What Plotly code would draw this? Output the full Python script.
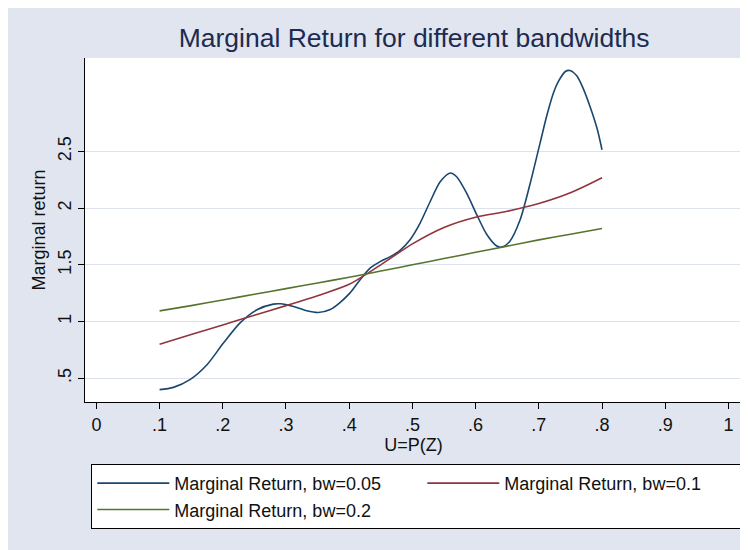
import plotly.graph_objects as go

# ---- data ----
u_bw005 = [0.100, 0.122, 0.148, 0.175, 0.201, 0.227, 0.254, 0.280, 0.291, 0.312,
           0.333, 0.351, 0.370, 0.385, 0.401, 0.417, 0.433, 0.449, 0.465, 0.480,
           0.496, 0.512, 0.528, 0.544, 0.560, 0.570, 0.586, 0.602, 0.618, 0.633,
           0.641, 0.654, 0.670, 0.686, 0.702, 0.713, 0.723, 0.731, 0.742, 0.749,
           0.760, 0.770, 0.781, 0.792, 0.800]
mr_bw005 = [0.399, 0.419, 0.487, 0.619, 0.810, 0.986, 1.103, 1.153, 1.156, 1.132,
            1.094, 1.079, 1.106, 1.165, 1.250, 1.367, 1.470, 1.528, 1.572, 1.625,
            1.719, 1.866, 2.056, 2.232, 2.310, 2.277, 2.130, 1.940, 1.765, 1.668,
            1.656, 1.706, 1.890, 2.210, 2.573, 2.823, 3.014, 3.117, 3.205, 3.214,
            3.167, 3.059, 2.897, 2.706, 2.515]

u_bw01 = [0.10, 0.15, 0.20, 0.25, 0.30, 0.35, 0.40, 0.45, 0.50, 0.55, 0.60, 0.65, 0.70, 0.75, 0.80]
mr_bw01 = [0.800, 0.885, 0.970, 1.055, 1.140, 1.228, 1.328, 1.500, 1.685, 1.830, 1.920, 1.972, 2.040, 2.135, 2.268]

u_bw02 = [0.10, 0.15, 0.20, 0.25, 0.30, 0.35, 0.40, 0.45, 0.50, 0.55, 0.60, 0.65, 0.70, 0.75, 0.80]
mr_bw02 = [1.094, 1.140, 1.190, 1.240, 1.290, 1.340, 1.390, 1.445, 1.500, 1.555, 1.610, 1.665, 1.720, 1.770, 1.820]

x_ticks = [0, 0.1, 0.2, 0.3, 0.4, 0.5, 0.6, 0.7, 0.8, 0.9, 1.0]
x_ticklabels = ["0", ".1", ".2", ".3", ".4", ".5", ".6", ".7", ".8", ".9", "1"]
y_ticks = [0.5, 1.0, 1.5, 2.0, 2.5]
y_ticklabels = [".5", "1", "1.5", "2", "2.5"]

names = ["Marginal Return, bw=0.05", "Marginal Return, bw=0.1", "Marginal Return, bw=0.2"]
colors = ["#1a476f", "#90353b", "#55752f"]

BG = "#e0e5ef"
FONT = "Liberation Sans, Arial, sans-serif"

fig = go.Figure()
for xs, ys, nm, c in [(u_bw005, mr_bw005, names[0], colors[0]),
                      (u_bw01, mr_bw01, names[1], colors[1]),
                      (u_bw02, mr_bw02, names[2], colors[2])]:
    fig.add_trace(go.Scatter(x=xs, y=ys, mode="lines", name=nm,
                             line=dict(color=c, width=1.6, shape="spline", smoothing=0.8)))

fig.update_layout(
    width=748, height=550,
    margin=dict(l=77, r=14, t=50, b=156, pad=0, autoexpand=False),
    paper_bgcolor=BG, plot_bgcolor="white",
    font=dict(family=FONT, size=18, color="#111111"),
    title=dict(text="Marginal Return for different bandwidths",
               font=dict(family=FONT, size=26.5, color="#1c2b4f"),
               x=0.543, xanchor="center", y=0.946, yanchor="middle"),
    xaxis=dict(range=[-0.018, 1.0215], tickvals=x_ticks, ticktext=x_ticklabels,
               showgrid=False, zeroline=False, showline=True, linecolor="black", linewidth=1,
               ticks="outside", ticklen=6, tickcolor="black", automargin=False,
               tickfont=dict(size=18, color="#111111"),
               title=dict(text="U=P(Z)", font=dict(size=18, color="#111111"), standoff=0)),
    yaxis=dict(range=[0.29, 3.324], tickvals=y_ticks, ticktext=y_ticklabels,
               showgrid=True, gridcolor="#dde3ee", gridwidth=1, zeroline=False,
               showline=True, linecolor="black", linewidth=1, automargin=False,
               ticks="outside", ticklen=6, tickcolor="black", tickangle=-90,
               tickfont=dict(size=18, color="#111111"),
               title=dict(text="Marginal return", font=dict(size=18, color="#111111"), standoff=4)),
    legend=dict(orientation="h", x=0.0096, xanchor="left", y=-0.180, yanchor="top",
                bgcolor="white", bordercolor="black", borderwidth=1,
                font=dict(size=18, color="#111111"), entrywidth=243, itemwidth=72,
                traceorder="normal"),
)

fig.write_html("out.html")
